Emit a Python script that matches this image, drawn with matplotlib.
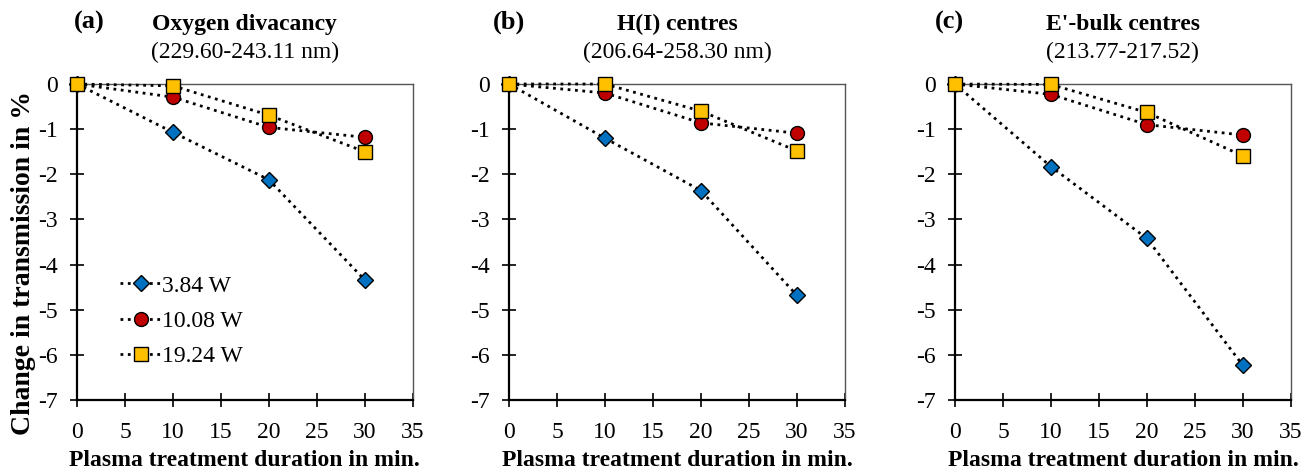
import matplotlib.pyplot as plt
import numpy as np

plt.rcParams['font.family'] = ['Liberation Serif', 'DejaVu Serif']
plt.rcParams['axes.unicode_minus'] = False

duration = [0, 10, 20, 30]
powers = ['3.84 W', '10.08 W', '19.24 W']

# change in transmission (%) per panel, one list per power
oxygen_divacancy = [
    [0, -1.07, -2.12, -4.34],
    [0, -0.29, -0.96, -1.18],
    [0, -0.04, -0.69, -1.50],
]
h1_centres = [
    [0, -1.20, -2.36, -4.68],
    [0, -0.20, -0.86, -1.09],
    [0, 0.0, -0.60, -1.48],
]
e_bulk_centres = [
    [0, -1.83, -3.42, -6.23],
    [0, -0.23, -0.90, -1.13],
    [0, -0.01, -0.63, -1.59],
]

letters = ['(a)', '(b)', '(c)']
titles = ['Oxygen divacancy', 'H(I) centres', "E'-bulk centres"]
ranges = ['(229.60-243.11 nm)', '(206.64-258.30 nm)', '(213.77-217.52)']
panels = [oxygen_divacancy, h1_centres, e_bulk_centres]

colors = ['#0070C0', '#C00000', '#FFC000']
markers = ['D', 'o', 's']
msizes = [8, 10, 9.5]

fig = plt.figure(figsize=(13.14, 4.72), dpi=100)
lefts = [0.0586, 0.3874, 0.7268]
letter_x = [0.036, 0.0, -0.018]

for k in range(3):
    ax = fig.add_axes([lefts[k], 0.1525, 0.2555, 0.6695])
    for s in range(3):
        ax.plot(duration, panels[k][s], linestyle=':', color='black', lw=2,
                marker=markers[s], markersize=msizes[s], markerfacecolor=colors[s],
                markeredgecolor='black', markeredgewidth=1, label=powers[s],
                clip_on=False, zorder=3)
    ax.set_xlim(0, 35)
    ax.set_ylim(-7, 0)
    ax.set_xticks(np.arange(0, 36, 5))
    ax.set_yticks(np.arange(-7, 1, 1))
    ax.tick_params(direction='inout', length=10, width=1.2, labelsize=17, color='black')
    ax.tick_params(axis='y', pad=9)
    ax.tick_params(axis='x', pad=11)
    for side in ['left', 'bottom']:
        ax.spines[side].set_linewidth(1.6)
        ax.spines[side].set_color('black')
    for side in ['top', 'right']:
        ax.spines[side].set_linewidth(1.0)
        ax.spines[side].set_color('#555555')
    ax.set_xlabel('Plasma treatment duration in min.', fontsize=17, fontweight='bold', labelpad=5)
    ax.text(0.5, 1.187, titles[k], transform=ax.transAxes, ha='center', va='center',
            fontsize=17, fontweight='bold')
    ax.text(0.5, 1.101, ranges[k], transform=ax.transAxes, ha='center', va='center',
            fontsize=17)
    ax.text(letter_x[k], 1.196, letters[k], transform=ax.transAxes, ha='center', va='center',
            fontsize=19, fontweight='bold')
    if k == 0:
        ax.legend(loc='upper left', bbox_to_anchor=(0.128, 0.395), frameon=False, fontsize=17,
                  handlelength=1.75, handletextpad=0.05, labelspacing=0.58, borderpad=0,
                  borderaxespad=0)

fig.text(24 / 1314, 1 - 263 / 472, 'Change in transmission in %', rotation=90,
         ha='center', va='center', fontsize=20, fontweight='bold')

fig.savefig('out.png', dpi=100)
